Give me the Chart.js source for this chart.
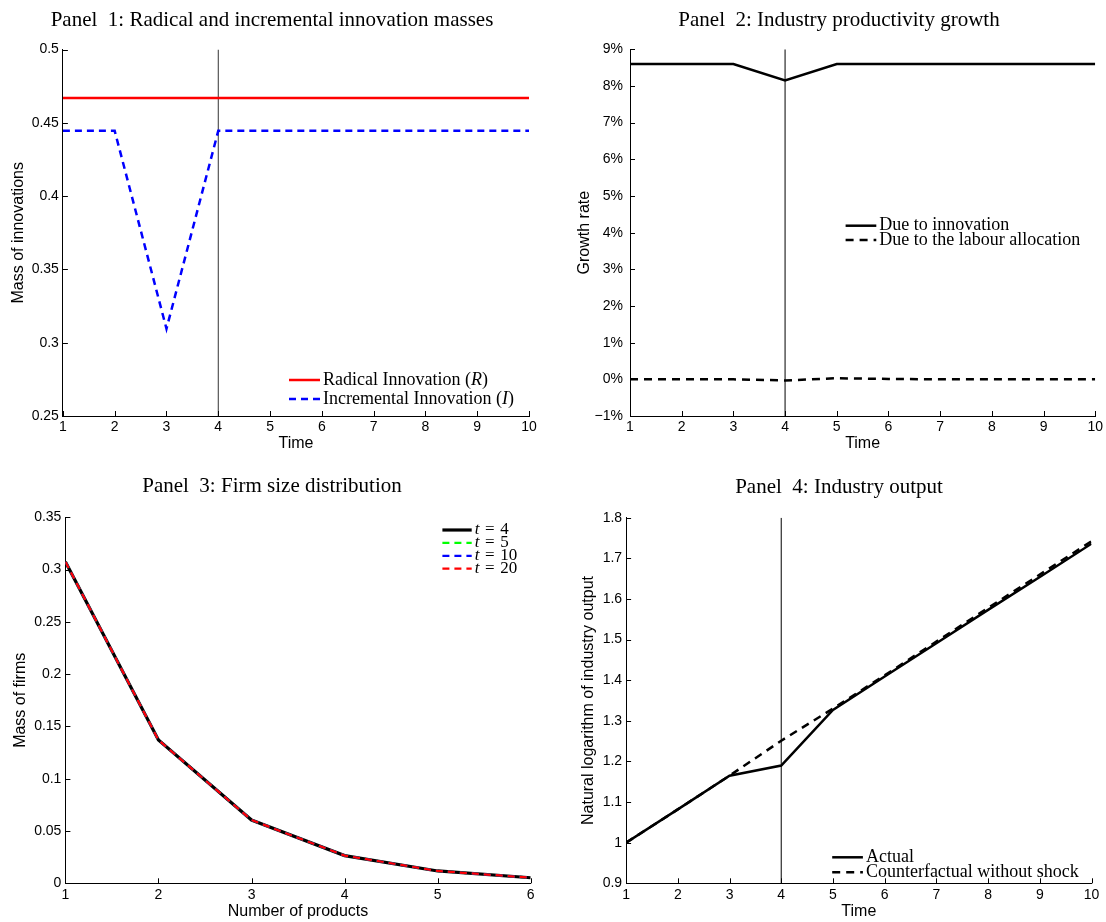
<!DOCTYPE html>
<html>
<head>
<meta charset="utf-8">
<script src="https://cdn.jsdelivr.net/npm/chart.js@4.4.1/dist/chart.umd.min.js"></script>
<style>
  body { margin:0; background:#fff; width:1106px; height:922px; position:relative; overflow:hidden; }
  canvas { position:absolute; }
</style>
</head>
<body>
<canvas id="c1" width="553" height="460" style="left:0;top:0"></canvas>
<canvas id="c2" width="553" height="460" style="left:553px;top:0"></canvas>
<canvas id="c3" width="553" height="462" style="left:0;top:460px"></canvas>
<canvas id="c4" width="553" height="462" style="left:553px;top:460px"></canvas>
<script>
// time periods and the shock period
var time = [1, 2, 3, 4, 5, 6, 7, 8, 9, 10];
var shockTime = 4;

// panel 1: innovation masses
var radical     = [0.467, 0.467, 0.467, 0.467, 0.467, 0.467, 0.467, 0.467, 0.467, 0.467];
var incremental = [0.4445, 0.4445, 0.3095, 0.4445, 0.4445, 0.4445, 0.4445, 0.4445, 0.4445, 0.4445];

// panel 2: productivity growth (percent)
var dueInnovation = [8.6, 8.6, 8.6, 8.15, 8.6, 8.6, 8.6, 8.6, 8.6, 8.6];
var dueLabour     = [0, 0, 0, -0.03, 0.03, 0.01, 0, 0, 0, 0];

// panel 3: firm size distribution
var products = [1, 2, 3, 4, 5, 6];
var firmsT4  = [0.3075, 0.137, 0.0605, 0.0265, 0.0118, 0.0053];
var firmsT5  = [0.3075, 0.137, 0.0605, 0.0265, 0.0118, 0.0053];
var firmsT10 = [0.3075, 0.137, 0.0605, 0.0265, 0.0118, 0.0053];
var firmsT20 = [0.3075, 0.137, 0.0605, 0.0265, 0.0118, 0.0053];

// panel 4: log industry output
var actual         = [1.0, 1.082, 1.165, 1.19, 1.327, 1.409, 1.491, 1.573, 1.654, 1.736];
var counterfactual = [1.0, 1.082, 1.165, 1.251, 1.330, 1.412, 1.495, 1.578, 1.660, 1.742];

var SANS = "'Liberation Sans', Arial, Helvetica, sans-serif";
var SERIF = "'Liberation Serif', 'Times New Roman', serif";

function pts(xs, ys) {
  return xs.map(function(x, i) { return { x: x, y: ys[i] }; });
}

function fmt(v) {
  var s = String(+v.toFixed(4));
  return s.charAt(0) === '-' ? '\u2212' + s.slice(1) : s;
}

function series(xs, ys, color, width, dash, order) {
  return {
    data: pts(xs, ys), borderColor: color, borderWidth: width,
    borderDash: dash || [], pointRadius: 0, tension: 0, fill: false, order: order || 1
  };
}

function shockLine(yMin, yMax, color) {
  return {
    data: [{ x: shockTime, y: yMin }, { x: shockTime, y: yMax }],
    borderColor: color, borderWidth: 1, pointRadius: 0, fill: false, order: 10
  };
}

// matlab style ticks pointing into the axes
var inwardTicks = {
  id: 'inwardTicks',
  afterDraw: function(chart) {
    var ctx = chart.ctx, a = chart.chartArea;
    var xs = chart.scales.x, ys = chart.scales.y;
    ctx.save();
    ctx.strokeStyle = '#000';
    ctx.lineWidth = 1;
    ctx.beginPath();
    xs.ticks.forEach(function(t) {
      var px = Math.round(xs.getPixelForValue(t.value)) + 0.5;
      ctx.moveTo(px, a.bottom);
      ctx.lineTo(px, a.bottom - 5);
    });
    ys.ticks.forEach(function(t) {
      var py = Math.round(ys.getPixelForValue(t.value)) + 0.5;
      ctx.moveTo(a.left, py);
      ctx.lineTo(a.left + 5, py);
    });
    ctx.stroke();
    ctx.restore();
  }
};

function titlePlugin(text, x, y) {
  return {
    id: 'panelTitle',
    afterDraw: function(chart) {
      var ctx = chart.ctx;
      ctx.save();
      ctx.font = '21px ' + SERIF;
      ctx.fillStyle = '#000';
      ctx.textAlign = 'center';
      ctx.textBaseline = 'middle';
      ctx.fillText(text, x, y);
      ctx.restore();
    }
  };
}

// legend with the line sample touching the label
function legendPlugin(leg) {
  return {
    id: 'lineLegend',
    afterDraw: function(chart) {
      var ctx = chart.ctx;
      ctx.save();
      leg.items.forEach(function(it, i) {
        var ds = chart.data.datasets[it.index];
        var y = leg.y + i * leg.dy;
        ctx.beginPath();
        ctx.strokeStyle = ds.borderColor;
        ctx.lineWidth = ds.borderWidth;
        ctx.setLineDash(ds.borderDash || []);
        ctx.moveTo(leg.x, y);
        ctx.lineTo(leg.x + leg.len, y);
        ctx.stroke();
        ctx.setLineDash([]);
        var tx = leg.x + leg.len + 3;
        ctx.fillStyle = '#000';
        ctx.textBaseline = 'middle';
        it.parts.forEach(function(p) {
          ctx.font = (p[1] ? 'italic ' : '') + leg.size + 'px ' + SERIF;
          ctx.fillText(p[0], tx, y);
          tx += ctx.measureText(p[0]).width;
        });
      });
      ctx.restore();
    }
  };
}

function panel(id, cfg) {
  return new Chart(document.getElementById(id), {
    type: 'line',
    data: { datasets: cfg.datasets },
    options: {
      responsive: false,
      animation: false,
      layout: { padding: { left: 0, right: cfg.padRight, top: cfg.padTop, bottom: 0 } },
      plugins: { legend: { display: false }, tooltip: { enabled: false }, title: { display: false } },
      scales: {
        x: {
          type: 'linear', min: cfg.xMin, max: cfg.xMax,
          border: { display: true, color: '#000', width: 1 },
          grid: { drawOnChartArea: false, drawTicks: false },
          ticks: { stepSize: 1, color: '#000', font: { family: SANS, size: 14 }, padding: 3,
                   maxRotation: 0, autoSkip: false, callback: fmt },
          title: { display: true, text: cfg.xTitle, color: '#000', font: { family: SANS, size: 16 },
                   padding: { top: 0, bottom: cfg.xTitlePad } },
          afterFit: function(s) { s.height = cfg.xHeight; }
        },
        y: {
          min: cfg.yMin, max: cfg.yMax,
          border: { display: true, color: '#000', width: 1 },
          grid: { drawOnChartArea: false, drawTicks: false },
          ticks: { stepSize: cfg.yStep, color: '#000', font: { family: SANS, size: 14 }, padding: cfg.yTickPad,
                   autoSkip: false, callback: cfg.yFmt || fmt },
          title: { display: true, text: cfg.yTitle, color: '#000', font: { family: SANS, size: 16 },
                   padding: { top: cfg.yTitlePad, bottom: 0 } },
          afterFit: function(s) { s.width = cfg.yWidth; }
        }
      }
    },
    plugins: [inwardTicks, titlePlugin(cfg.title, cfg.titleX, cfg.titleY), legendPlugin(cfg.legend)]
  });
}

panel('c1', {
  title: 'Panel  1: Radical and incremental innovation masses', titleX: 272, titleY: 20,
  datasets: [
    series(time, radical, '#ff0000', 2.5, null, 2),
    series(time, incremental, '#0000ff', 2.5, [7, 5], 1),
    shockLine(0.25, 0.5, '#333')
  ],
  xMin: 1, xMax: 10, yMin: 0.25, yMax: 0.5, yStep: 0.05,
  xTitle: 'Time', yTitle: 'Mass of innovations',
  padTop: 49.5, padRight: 24, yWidth: 62.9, xHeight: 44, xTitlePad: 7, yTitlePad: 9.1, yTickPad: 4,
  legend: { x: 289, y: 380, dy: 19, len: 31, size: 18, items: [
    { index: 0, parts: [['Radical Innovation (', false], ['R', true], [')', false]] },
    { index: 1, parts: [['Incremental Innovation (', false], ['I', true], [')', false]] }
  ] }
});

panel('c2', {
  title: 'Panel  2: Industry productivity growth', titleX: 286, titleY: 20,
  datasets: [
    series(time, dueInnovation, '#000', 2.5, null, 1),
    series(time, dueLabour, '#000', 2.5, [8, 6], 2),
    shockLine(-1, 9, '#000')
  ],
  xMin: 1, xMax: 10, yMin: -1, yMax: 9, yStep: 1,
  yFmt: function(v) { return fmt(v) + '%'; },
  xTitle: 'Time', yTitle: 'Growth rate',
  padTop: 49.3, padRight: 10, yWidth: 77, xHeight: 44, xTitlePad: 7, yTitlePad: 21.5, yTickPad: 7,
  legend: { x: 292.6, y: 225.7, dy: 14.3, len: 30.7, size: 18, items: [
    { index: 0, parts: [['Due to innovation', false]] },
    { index: 1, parts: [['Due to the labour allocation', false]] }
  ] }
});

panel('c3', {
  title: 'Panel  3: Firm size distribution', titleX: 272, titleY: 26.7,
  datasets: [
    series(products, firmsT4, '#000', 3.2, null, 4),
    series(products, firmsT5, '#00ff00', 2.2, [7, 5], 3),
    series(products, firmsT10, '#0000ff', 2.2, [7, 5], 2),
    series(products, firmsT20, '#ff0000', 2.2, [7, 5], 1)
  ],
  xMin: 1, xMax: 6, yMin: 0, yMax: 0.35, yStep: 0.05,
  xTitle: 'Number of products', yTitle: 'Mass of firms',
  padTop: 57.3, padRight: 22.3, yWidth: 65.4, xHeight: 38.7, xTitlePad: 0.7, yTitlePad: 10.5, yTickPad: 4,
  legend: { x: 442.4, y: 70, dy: 12.9, len: 29.3, size: 17, items: [
    { index: 0, parts: [['t', true], ['\u2004=\u20044', false]] },
    { index: 1, parts: [['t', true], ['\u2004=\u20045', false]] },
    { index: 2, parts: [['t', true], ['\u2004=\u200410', false]] },
    { index: 3, parts: [['t', true], ['\u2004=\u200420', false]] }
  ] }
});

panel('c4', {
  title: 'Panel  4: Industry output', titleX: 286, titleY: 27.7,
  datasets: [
    series(time, actual, '#000', 2.5, null, 2),
    series(time, counterfactual, '#000', 2.5, [8, 6], 1),
    shockLine(0.9, 1.8, '#000')
  ],
  xMin: 1, xMax: 10, yMin: 0.9, yMax: 1.8, yStep: 0.1,
  xTitle: 'Time', yTitle: 'Natural logarithm of industry output',
  padTop: 57.7, padRight: 14.5, yWidth: 73.1, xHeight: 38.7, xTitlePad: 0.7, yTitlePad: 25.7, yTickPad: 4,
  legend: { x: 279.2, y: 397.3, dy: 15, len: 30.7, size: 18, items: [
    { index: 0, parts: [['Actual', false]] },
    { index: 1, parts: [['Counterfactual without shock', false]] }
  ] }
});
</script>
</body>
</html>
